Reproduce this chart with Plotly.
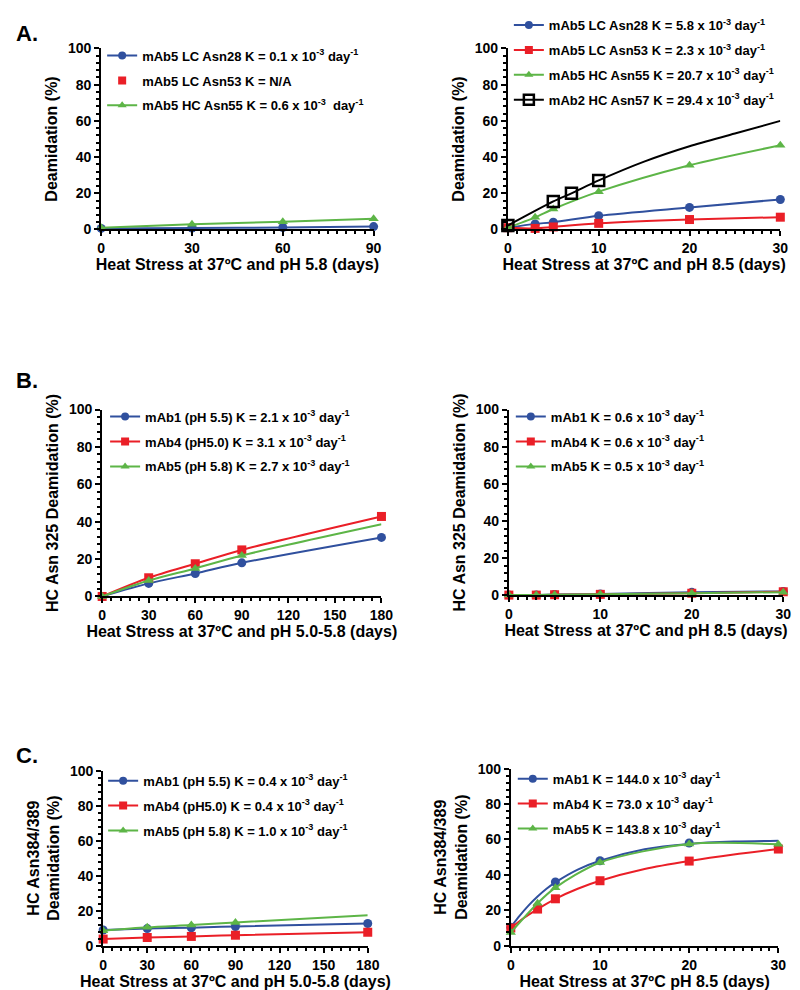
import plotly.graph_objects as go

BLUE = "#30509E"
RED = "#EA1F27"
GREEN = "#5DB547"
BLACK = "#000000"
FONT = "Arial, Liberation Sans, sans-serif"

# ---------------- Panel A left (pH 5.8) ----------------
a1_x = [0, 30, 60, 90]
a1_lc28 = [0.6, 0.8, 1.1, 1.6]
a1_lc53 = [-0.2, -0.3, -0.3, -0.5]
a1_hc55 = [1.0, 2.9, 4.3, 6.0]

# ---------------- Panel A right (pH 8.5) ----------------
a2_x = [0, 3, 5, 10, 20, 30]
a2_lc28 = [1.0, 3.1, 4.0, 7.6, 12.2, 16.6]
a2_lc53 = [1.0, 0.6, 1.4, 3.4, 5.5, 6.8]
a2_hc55 = [1.0, 6.7, 11.3, 20.9, 35.5, 46.5]
a2_hc57_x = [0, 5, 7, 10]
a2_hc57 = [2.2, 15.5, 20.0, 27.1]
a2_hc57_fit_x = [0, 5, 7, 10, 15, 20, 25, 30]
a2_hc57_fit = [2.2, 15.5, 20.0, 27.1, 37.5, 46.0, 53.0, 60.0]

# ---------------- Panel B left (pH 5.0-5.8) ----------------
b1_x = [0, 30, 60, 90, 180]
b1_mab1 = [0, 7.0, 12.3, 18.0, 31.6]
b1_mab4 = [0, 10.0, 17.5, 24.9, 42.8]
b1_mab5_x = [0, 30, 60, 90]
b1_mab5 = [0, 8.5, 15.0, 21.9]
b1_mab5_fit_x = [0, 30, 60, 90, 180]
b1_mab5_fit = [0, 8.5, 15.0, 21.9, 38.6]

# ---------------- Panel B right (pH 8.5) ----------------
b2_x = [0, 3, 5, 10, 20, 30]
b2_mab1 = [0.3, 0.3, 0.5, 0.8, 1.7, 2.2]
b2_mab4 = [0.2, 0.2, 0.4, 0.6, 1.2, 2.0]
b2_mab5 = [0.2, 0.3, 0.4, 0.6, 1.2, 1.8]

# ---------------- Panel C left (pH 5.0-5.8) ----------------
c1_x = [0, 30, 60, 90, 180]
c1_mab1 = [9.0, 9.8, 10.3, 11.0, 12.7]
c1_mab4 = [3.8, 4.7, 5.3, 6.0, 7.7]
c1_mab5_x = [0, 30, 60, 90]
c1_mab5 = [8.5, 10.5, 11.8, 13.3]
c1_mab5_fit_x = [0, 30, 60, 90, 180]
c1_mab5_fit = [8.5, 10.5, 11.8, 13.3, 17.4]

# ---------------- Panel C right (pH 8.5) ----------------
c2_x = [0, 3, 5, 10, 20, 30]
c2_mab1_x = [0, 5, 10, 20]
c2_mab1 = [10.5, 36.0, 48.0, 58.0]
c2_mab1_fit_x = [0, 1, 2, 3, 4, 5, 7.5, 10, 15, 20, 25, 30]
c2_mab1_fit = [10.5, 17.0, 22.8, 27.8, 32.2, 35.8, 43.0, 48.0, 54.5, 57.5, 58.8, 59.3]
c2_mab4 = [10.0, 20.7, 26.5, 36.7, 47.8, 54.6]
c2_mab4_fit_x = [0, 1.5, 3, 5, 7.5, 10, 15, 20, 25, 30]
c2_mab4_fit = [10.0, 15.8, 20.7, 26.5, 32.2, 36.7, 43.3, 47.8, 51.5, 54.6]
c2_mab5 = [7.5, 24.0, 32.8, 47.0, 57.5, 57.3]

fig = go.Figure()

# Panel geometry (in pixels, converted to paper fractions)
W, H = 800, 990
panels = {
    1: dict(x0=91, x1=369, ytop=33, ybot=217),
    2: dict(x0=506, x1=784, ytop=33, ybot=217),
    3: dict(x0=92, x1=377, ytop=400, ybot=590),
    4: dict(x0=507, x1=787, ytop=400, ybot=589),
    5: dict(x0=93, x1=363, ytop=767, ybot=945),
    6: dict(x0=509, x1=782, ytop=765, ybot=945),
}

symbol_size = {"circle": 8, "square": 8, "triangle-up": 8, "square-open": 10}


def add_series(p, name, color, symbol, mx, my, fx=None, fy=None, line=True, legend="legend"):
    xa = "x" if p == 1 else f"x{p}"
    ya = "y" if p == 1 else f"y{p}"
    mw = 2.5 if symbol == "square-open" else 0
    # legend entry
    fig.add_trace(go.Scatter(
        x=[None], y=[None], name=name, xaxis=xa, yaxis=ya,
        mode="lines+markers" if line else "markers",
        line=dict(color=color, width=2),
        marker=dict(color=color, symbol=symbol, size=symbol_size[symbol],
                    line=dict(color=color, width=mw)),
        legend=legend, legendgroup=f"{p}-{name}", showlegend=True))
    if line:
        fig.add_trace(go.Scatter(
            x=fx if fx is not None else mx, y=fy if fy is not None else my,
            xaxis=xa, yaxis=ya, mode="lines", showlegend=False, hoverinfo="skip",
            line=dict(color=color, width=2, shape="spline", smoothing=0.8),
            cliponaxis=False))
    fig.add_trace(go.Scatter(
        x=mx, y=my, xaxis=xa, yaxis=ya, mode="markers", showlegend=False,
        marker=dict(color=color, symbol=symbol, size=symbol_size[symbol] + 1,
                    line=dict(color=color, width=mw)),
        cliponaxis=False))


sup = "<sup>-3</sup>"
dayinv = "day<sup>-1</sup>"

# A left
add_series(1, f"mAb5 LC Asn28 K = 0.1 x 10{sup} {dayinv}", BLUE, "circle", a1_x, a1_lc28, legend="legend")
add_series(1, "mAb5 LC Asn53 K = N/A", RED, "square", a1_x, a1_lc53, line=False, legend="legend")
add_series(1, f"mAb5 HC Asn55 K = 0.6 x 10{sup}  {dayinv}", GREEN, "triangle-up", a1_x, a1_hc55, legend="legend")

# A right
add_series(2, f"mAb5 LC Asn28 K = 5.8 x 10{sup} {dayinv}", BLUE, "circle", a2_x, a2_lc28, legend="legend2")
add_series(2, f"mAb5 LC Asn53 K = 2.3 x 10{sup} {dayinv}", RED, "square", a2_x, a2_lc53, legend="legend2")
add_series(2, f"mAb5 HC Asn55 K = 20.7 x 10{sup} {dayinv}", GREEN, "triangle-up", a2_x, a2_hc55, legend="legend2")
add_series(2, f"mAb2 HC Asn57 K = 29.4 x 10{sup} {dayinv}", BLACK, "square-open", a2_hc57_x, a2_hc57,
           a2_hc57_fit_x, a2_hc57_fit, legend="legend2")

# B left
add_series(3, f"mAb1 (pH 5.5) K = 2.1 x 10{sup} {dayinv}", BLUE, "circle", b1_x, b1_mab1, legend="legend3")
add_series(3, f"mAb4 (pH5.0) K = 3.1 x 10{sup} {dayinv}", RED, "square", b1_x, b1_mab4, legend="legend3")
add_series(3, f"mAb5 (pH 5.8) K = 2.7 x 10{sup} {dayinv}", GREEN, "triangle-up", b1_mab5_x, b1_mab5,
           b1_mab5_fit_x, b1_mab5_fit, legend="legend3")

# B right
add_series(4, f"mAb1 K = 0.6 x 10{sup} {dayinv}", BLUE, "circle", b2_x, b2_mab1, legend="legend4")
add_series(4, f"mAb4 K = 0.6 x 10{sup} {dayinv}", RED, "square", b2_x, b2_mab4, legend="legend4")
add_series(4, f"mAb5 K = 0.5 x 10{sup} {dayinv}", GREEN, "triangle-up", b2_x, b2_mab5, legend="legend4")

# C left
add_series(5, f"mAb1 (pH 5.5) K = 0.4 x 10{sup} {dayinv}", BLUE, "circle", c1_x, c1_mab1, legend="legend5")
add_series(5, f"mAb4 (pH5.0) K = 0.4 x 10{sup} {dayinv}", RED, "square", c1_x, c1_mab4, legend="legend5")
add_series(5, f"mAb5 (pH 5.8) K = 1.0 x 10{sup} {dayinv}", GREEN, "triangle-up", c1_mab5_x, c1_mab5,
           c1_mab5_fit_x, c1_mab5_fit, legend="legend5")

# C right
add_series(6, f"mAb1 K = 144.0 x 10{sup} {dayinv}", BLUE, "circle", c2_mab1_x, c2_mab1,
           c2_mab1_fit_x, c2_mab1_fit, legend="legend6")
add_series(6, f"mAb4 K = 73.0 x 10{sup} {dayinv}", RED, "square", c2_x, c2_mab4,
           c2_mab4_fit_x, c2_mab4_fit, legend="legend6")
add_series(6, f"mAb5 K = 143.8 x 10{sup} {dayinv}", GREEN, "triangle-up", c2_x, c2_mab5, legend="legend6")

axis_font = dict(family=FONT, size=14, color="black", weight="bold")
title_font = dict(family=FONT, size=16, color="black", weight="bold")

xinfo = {
    1: dict(range=[0, 90], dtick=30, minor=3, title="Heat Stress at 37ºC and pH 5.8 (days)"),
    2: dict(range=[0, 30], dtick=10, minor=1, title="Heat Stress at 37ºC and pH 8.5 (days)"),
    3: dict(range=[0, 180], dtick=30, minor=6, title="Heat Stress at 37ºC and pH 5.0-5.8 (days)"),
    4: dict(range=[0, 30], dtick=10, minor=1, title="Heat Stress at 37ºC and pH 8.5 (days)"),
    5: dict(range=[0, 180], dtick=30, minor=6, title="Heat Stress at 37ºC and pH 5.0-5.8 (days)"),
    6: dict(range=[0, 30], dtick=10, minor=1, title="Heat Stress at 37ºC pH 8.5 (days)"),
}
ytitles = {
    1: "Deamidation (%)",
    2: "Deamidation (%)",
    3: "HC Asn 325 Deamidation (%)",
    4: "HC Asn 325 Deamidation (%)",
    5: "HC Asn384/389<br>Deamidation (%)",
    6: "HC Asn384/389<br>Deamidation (%)",
}

layout = {}
for p, g in panels.items():
    xd = [g["x0"] / W, g["x1"] / W]
    yd = [1 - g["ybot"] / H, 1 - g["ytop"] / H]
    xi = xinfo[p]
    xk = "xaxis" if p == 1 else f"xaxis{p}"
    yk = "yaxis" if p == 1 else f"yaxis{p}"
    xa = "x" if p == 1 else f"x{p}"
    ya = "y" if p == 1 else f"y{p}"
    layout[xk] = dict(
        domain=xd, anchor=ya, range=xi["range"], tick0=0, dtick=xi["dtick"],
        showline=True, linecolor="black", linewidth=2, ticks="outside", ticklen=5,
        tickwidth=2, tickcolor="black", showgrid=False, zeroline=False,
        tickfont=axis_font,
        minor=dict(ticks="outside", dtick=xi["minor"], ticklen=3, tickwidth=1.5, tickcolor="black"),
        title=dict(text=xi["title"], font=title_font, standoff=4),
    )
    layout[yk] = dict(
        domain=yd, anchor=xa, range=[0, 100], tick0=0, dtick=20,
        showline=True, linecolor="black", linewidth=2, ticks="outside", ticklen=5,
        tickwidth=2, tickcolor="black", showgrid=False, zeroline=False,
        tickfont=axis_font,
        minor=dict(ticks="outside", dtick=4, ticklen=3, tickwidth=1.5, tickcolor="black"),
        title=dict(text=ytitles[p], font=title_font, standoff=6),
    )

legend_pos = {
    "legend": (92, 25),
    "legend2": (507, -6),
    "legend3": (95, 392),
    "legend4": (509, 392),
    "legend5": (93, 762),
    "legend6": (511, 760),
}
for key, (lx, ly) in legend_pos.items():
    layout[key] = dict(
        x=lx / W, y=1 - ly / H, xanchor="left", yanchor="top",
        xref="paper", yref="paper",
        bgcolor="rgba(0,0,0,0)", borderwidth=0,
        font=dict(family=FONT, size=13, color="black", weight="bold"),
        traceorder="grouped", tracegroupgap=5, itemwidth=30,
    )

fig.update_layout(
    width=W, height=H, margin=dict(l=0, r=0, t=0, b=0),
    paper_bgcolor="white", plot_bgcolor="white",
    font=dict(family=FONT, color="black"),
    **layout,
)

for txt, yy in [("A.", 18), ("B.", 370), ("C.", 752)]:
    fig.add_annotation(text=f"<b>{txt}</b>", x=2 / W, y=1 - yy / H, xref="paper", yref="paper",
                       xanchor="left", yanchor="middle", showarrow=False,
                       font=dict(family=FONT, size=22, color="black"))

fig.write_html("out.html")
